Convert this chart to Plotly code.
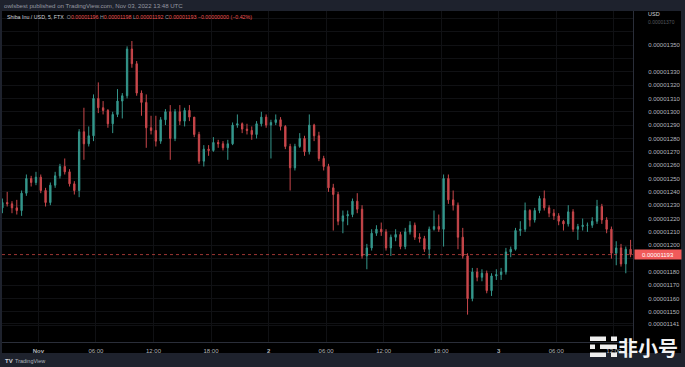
import pandas as pd
import plotly.graph_objects as go

# ---------------- data (prices in units of 1e-8 USD, 30-minute candles) ----------------
UNIT = 1e-8
START = "2022-10-31 20:15"   # centre of the first 30-minute candle

OPEN = [1228, 1232, 1231, 1228, 1226, 1239, 1250, 1247, 1251, 1241, 1232, 1245, 1252, 1259, 1255, 1246,
        1241, 1285, 1276, 1282, 1310, 1303, 1301, 1291, 1298, 1308, 1312, 1347, 1336, 1314, 1307, 1288,
        1286, 1278, 1294, 1300, 1280, 1300, 1293, 1301, 1296, 1283, 1263, 1272, 1271, 1277, 1276, 1273,
        1276, 1290, 1291, 1287, 1286, 1283, 1291, 1296, 1290, 1292, 1294, 1289, 1274, 1258, 1274, 1280,
        1270, 1290, 1282, 1265, 1259, 1243, 1238, 1218, 1222, 1223, 1233, 1227, 1192, 1198, 1209, 1212,
        1210, 1198, 1206, 1208, 1199, 1210, 1215, 1206, 1205, 1197, 1212, 1214, 1212, 1250, 1234, 1230,
        1206, 1192, 1160, 1180, 1176, 1179, 1166, 1177, 1178, 1180, 1195, 1197, 1211, 1212, 1226, 1219,
        1226, 1235, 1228, 1224, 1222, 1218, 1216, 1225, 1212, 1214, 1215, 1215, 1218, 1229, 1219, 1212,
        1194, 1198, 1186, 1197]
HIGH = [1235, 1240, 1233, 1234, 1241, 1253, 1252, 1255, 1253, 1243, 1247, 1255, 1261, 1265, 1257, 1248,
        1287, 1303, 1289, 1313, 1322, 1308, 1302, 1300, 1317, 1314, 1349, 1353, 1338, 1316, 1313, 1297,
        1297, 1296, 1302, 1305, 1302, 1305, 1303, 1305, 1296, 1285, 1275, 1275, 1281, 1279, 1278, 1279,
        1292, 1298, 1292, 1291, 1289, 1293, 1300, 1298, 1294, 1298, 1296, 1290, 1276, 1276, 1284, 1282,
        1298, 1291, 1285, 1267, 1261, 1246, 1240, 1226, 1226, 1235, 1239, 1230, 1201, 1212, 1215, 1217,
        1212, 1208, 1212, 1210, 1213, 1218, 1217, 1209, 1207, 1214, 1226, 1223, 1253, 1253, 1241, 1232,
        1213, 1194, 1183, 1183, 1182, 1181, 1179, 1182, 1183, 1198, 1199, 1213, 1218, 1232, 1227, 1228,
        1237, 1241, 1230, 1227, 1224, 1219, 1230, 1227, 1216, 1220, 1217, 1221, 1234, 1231, 1221, 1214,
        1203, 1201, 1199, 1204]
LOW = [1224, 1229, 1224, 1223, 1222, 1237, 1244, 1245, 1239, 1229, 1230, 1243, 1250, 1253, 1244, 1238,
       1236, 1264, 1274, 1278, 1299, 1298, 1288, 1284, 1296, 1295, 1310, 1333, 1312, 1297, 1273, 1283,
       1274, 1276, 1290, 1264, 1278, 1290, 1289, 1293, 1281, 1261, 1259, 1267, 1270, 1273, 1271, 1264,
       1275, 1288, 1284, 1283, 1279, 1280, 1289, 1288, 1265, 1290, 1286, 1272, 1241, 1256, 1273, 1267,
       1268, 1278, 1263, 1256, 1240, 1211, 1215, 1209, 1215, 1221, 1224, 1190, 1182, 1196, 1207, 1207,
       1196, 1192, 1203, 1197, 1197, 1208, 1204, 1202, 1195, 1190, 1211, 1210, 1199, 1231, 1226, 1197,
       1190, 1148, 1158, 1173, 1173, 1164, 1162, 1174, 1174, 1178, 1191, 1196, 1207, 1210, 1214, 1217,
       1224, 1226, 1221, 1219, 1215, 1211, 1214, 1210, 1204, 1211, 1210, 1213, 1216, 1216, 1209, 1190,
       1185, 1184, 1179, 1191]
CLOSE = [1232, 1231, 1228, 1226, 1239, 1250, 1247, 1251, 1241, 1232, 1245, 1252, 1259, 1255, 1246, 1241,
         1285, 1276, 1282, 1310, 1303, 1301, 1291, 1298, 1308, 1312, 1347, 1336, 1314, 1307, 1288, 1286,
         1278, 1294, 1300, 1280, 1300, 1293, 1301, 1296, 1283, 1263, 1272, 1271, 1277, 1276, 1273, 1276,
         1290, 1291, 1287, 1286, 1283, 1291, 1296, 1290, 1292, 1294, 1289, 1274, 1258, 1274, 1280, 1270,
         1290, 1282, 1265, 1259, 1243, 1238, 1218, 1222, 1223, 1233, 1227, 1192, 1198, 1209, 1212, 1210,
         1198, 1206, 1208, 1199, 1210, 1215, 1206, 1205, 1197, 1212, 1214, 1212, 1250, 1234, 1230, 1206,
         1192, 1160, 1180, 1176, 1179, 1166, 1177, 1178, 1180, 1195, 1197, 1211, 1212, 1226, 1219, 1226,
         1235, 1228, 1224, 1222, 1218, 1216, 1225, 1212, 1214, 1215, 1215, 1218, 1229, 1219, 1212, 1194,
         1198, 1186, 1197, 1193]
assert len(OPEN) == len(HIGH) == len(LOW) == len(CLOSE)
TIMES = pd.date_range(START, periods=len(CLOSE), freq="30min")

Y_TICKS = [1350, 1330, 1320, 1310, 1300, 1290, 1280, 1270, 1260, 1250, 1240, 1230, 1220,
           1210, 1200, 1180, 1170, 1160, 1150, 1141]
Y_TOP_FADED = "0.00001370"   # partly hidden label under the currency caption
Y_GRID = [1140, 1150, 1160, 1170, 1180, 1190, 1200, 1210, 1220, 1230, 1240, 1250, 1260, 1270,
          1280, 1290, 1300, 1310, 1320, 1330, 1340, 1350, 1360, 1370]
X_TICKS = ["2022-11-01 00:00", "2022-11-01 06:00", "2022-11-01 12:00", "2022-11-01 18:00",
           "2022-11-02 00:00", "2022-11-02 06:00", "2022-11-02 12:00", "2022-11-02 18:00",
           "2022-11-03 00:00", "2022-11-03 06:00", "2022-11-03 12:00"]
X_LABELS = ["<b>Nov</b>", "06:00", "12:00", "18:00", "<b>2</b>", "06:00", "12:00", "18:00",
            "<b>3</b>", "06:00", "12:00"]
LAST_PRICE = 1193
HEADER = "owlsbest published on TradingView.com, Nov 03, 2022 13:48 UTC"
SYMBOL = "Shiba Inu / USD, 5, FTX"
LEGEND_OHLC = [("O", "0.00001196"), ("H", "0.00001198"), ("L", "0.00001192"), ("C", "0.00001193")]
CHANGE = "\u22120.00000000 (\u22120.42%)"
CURRENCY = "USD"
WATERMARK = "非小号"

# ---------------- layout geometry ----------------
W, H = 685, 367
PL, PR, PT, PB = 2, 633, 11, 342
GREEN = "#35978c"
RED = "#c9474b"
FRAME = "#1e222d"
GRID = "#101114"
AXLINE = "#2a2e39"
TXT = "#b2b5be"
FONT = "Liberation Sans, Arial, sans-serif"


def fx(px):
    return (px - PL) / (PR - PL)


def fy(py):
    return (PB - py) / (PB - PT)


fig = go.Figure()
fig.add_trace(go.Candlestick(
    x=TIMES,
    open=[v * UNIT for v in OPEN], high=[v * UNIT for v in HIGH],
    low=[v * UNIT for v in LOW], close=[v * UNIT for v in CLOSE],
    increasing=dict(line=dict(color=GREEN, width=1), fillcolor=GREEN),
    decreasing=dict(line=dict(color=RED, width=1), fillcolor=RED),
    whiskerwidth=0, showlegend=False, hoverinfo="skip",
))

shapes = [
    # black chart panel on the dark frame
    dict(type="rect", xref="paper", yref="paper", x0=fx(2), x1=fx(681), y0=fy(353), y1=fy(11),
         fillcolor="#000000", line=dict(width=0), layer="below"),
    # last price dotted line
    dict(type="line", xref="paper", yref="y", x0=0, x1=1, y0=LAST_PRICE * UNIT, y1=LAST_PRICE * UNIT,
         line=dict(color="rgba(239,83,80,0.65)", width=1, dash="dot"), layer="above"),
]
# watermark icon bars
icon_rows = [(336.5, [(590, 606), (611, 617)]), (344.5, [(590, 595), (600, 617)]), (352.5, [(590, 606), (611, 617)])]
for ytop, segs in icon_rows:
    for a, b in segs:
        shapes.append(dict(type="rect", xref="paper", yref="paper", x0=fx(a), x1=fx(b),
                           y0=fy(ytop + 4.5), y1=fy(ytop), fillcolor="#eeeeee",
                           line=dict(width=0), layer="above"))

legend_txt = f"<span style='color:#d1d4dc'>{SYMBOL}</span>&nbsp;&nbsp;"
for k, v in LEGEND_OHLC:
    legend_txt += f"<span style='color:#9598a1'>{k}</span><span style='color:#ef5350'>{v}</span>&nbsp;"
legend_txt += f"<span style='color:#ef5350'>{CHANGE}</span>"

annotations = [
    dict(text=HEADER, xref="paper", yref="paper", x=fx(2), y=fy(5.5), xanchor="left", yanchor="middle",
         showarrow=False, font=dict(size=6.1, color="#9598a1", family=FONT)),
    dict(text=legend_txt, xref="paper", yref="paper", x=fx(5), y=fy(16.5), xanchor="left",
         yanchor="middle", showarrow=False, font=dict(size=5.3, color="#d1d4dc", family=FONT)),
    dict(text=CURRENCY, xref="paper", yref="paper", x=fx(646), y=fy(14.5), xanchor="left",
         yanchor="middle", showarrow=False, font=dict(size=5.5, color="#d1d4dc", family=FONT)),
    dict(text=Y_TOP_FADED, xref="paper", yref="paper", x=fx(646), y=fy(22), xanchor="left",
         yanchor="middle", showarrow=False, font=dict(size=5, color="#55585f", family=FONT)),
    dict(text=f"{LAST_PRICE * UNIT:.8f}", xref="paper", yref="y", x=fx(634), y=LAST_PRICE * UNIT,
         xanchor="left", yanchor="middle", showarrow=False, bgcolor="#f05a5a", width=46, height=9,
         borderpad=0, font=dict(size=6, color="#ffffff", family=FONT)),
    dict(text="<b>TV</b>", xref="paper", yref="paper", x=fx(3), y=fy(361), xanchor="left",
         yanchor="middle", showarrow=False, font=dict(size=6, color="#d1d4dc", family=FONT)),
    dict(text="TradingView", xref="paper", yref="paper", x=fx(13), y=fy(361), xanchor="left",
         yanchor="middle", showarrow=False, font=dict(size=5.5, color="#b2b5be", family=FONT)),
    dict(text=f"<b>{WATERMARK}</b>", xref="paper", yref="paper", x=fx(648), y=fy(347), xanchor="center",
         yanchor="middle", showarrow=False, font=dict(size=20, color="#f2f2f2", family="Noto Sans CJK SC")),
]

fig.update_layout(
    width=W, height=H,
    margin=dict(l=PL, r=W - PR, t=PT, b=H - PB, pad=0),
    paper_bgcolor=FRAME, plot_bgcolor="#000000",
    showlegend=False, boxgap=0.6,
    font=dict(family=FONT, size=6, color=TXT),
    shapes=shapes, annotations=annotations,
    xaxis=dict(
        type="date", range=["2022-10-31 20:12:30", "2022-11-03 14:00"],
        tickvals=X_TICKS, ticktext=X_LABELS, ticks="", showgrid=True, gridcolor=GRID, gridwidth=1,
        showline=True, linecolor=AXLINE, linewidth=1, zeroline=False, automargin=False,
        rangeslider=dict(visible=False), tickfont=dict(size=6, color=TXT), ticklabelstandoff=3,
        fixedrange=True,
    ),
    yaxis=dict(
        side="right", range=[1127.5 * UNIT, 1375.5 * UNIT],
        tickvals=[t * UNIT for t in Y_TICKS], ticktext=[f"{t * UNIT:.8f}" for t in Y_TICKS],
        ticks="", showgrid=True, gridcolor=GRID, gridwidth=1,
        minor=dict(tickvals=[g * UNIT for g in Y_GRID], showgrid=True, gridcolor=GRID, ticks=""),
        showline=True, linecolor=AXLINE, linewidth=1, zeroline=False, automargin=False,
        tickfont=dict(size=6, color=TXT), ticklabelstandoff=13, fixedrange=True,
    ),
)

fig.write_html(
    "out.html",
    config={"displayModeBar": False},
    post_script="document.body.style.margin='0';document.body.style.padding='0';"
                "document.documentElement.style.overflow='hidden';",
)
